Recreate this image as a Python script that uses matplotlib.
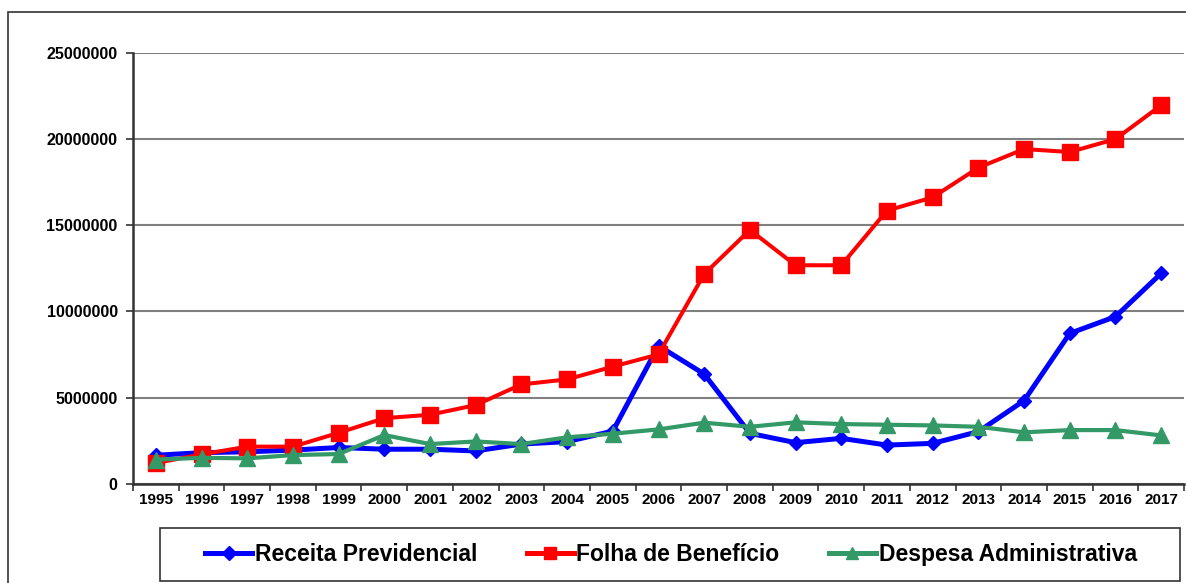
import matplotlib
matplotlib.use("Agg")
import matplotlib.pyplot as plt
from matplotlib.patches import Rectangle
from matplotlib.lines import Line2D

years = [str(y) for y in range(1995, 2018)]
receita = [1.65e6, 1.8e6, 1.85e6, 1.95e6, 2.1e6, 2.0e6, 2.0e6, 1.9e6, 2.3e6, 2.44e6,
           3.05e6, 8.0e6, 6.36e6, 2.92e6, 2.38e6, 2.63e6, 2.24e6, 2.34e6, 3.02e6,
           4.82e6, 8.72e6, 9.69e6, 12.2e6]
folha = [1.2e6, 1.7e6, 2.15e6, 2.15e6, 2.95e6, 3.8e6, 4.0e6, 4.56e6, 5.76e6, 6.05e6,
         6.79e6, 7.5e6, 12.16e6, 14.72e6, 12.67e6, 12.67e6, 15.84e6, 16.61e6, 18.33e6,
         19.41e6, 19.24e6, 19.99e6, 21.95e6]
despesa = [1.4e6, 1.5e6, 1.47e6, 1.66e6, 1.72e6, 2.82e6, 2.3e6, 2.45e6, 2.3e6, 2.69e6,
           2.9e6, 3.15e6, 3.54e6, 3.3e6, 3.56e6, 3.46e6, 3.42e6, 3.38e6, 3.3e6,
           2.98e6, 3.11e6, 3.11e6, 2.8e6]
series_names = ["Receita Previdencial", "Folha de Benefício", "Despesa Administrativa"]
y_ticks = [0, 5000000, 10000000, 15000000, 20000000, 25000000]

plt.rcParams['font.family'] = ['Liberation Sans', 'DejaVu Sans']

W, H = 1186, 583
fig = plt.figure(figsize=(W / 100, H / 100), dpi=100)
ax = fig.add_axes([133 / W, 1 - 483.7 / H, (1184 - 133) / W, (483.7 - 52.7) / H])

x = list(range(len(years)))
blue, red, green = '#0000FF', '#FF0000', '#339966'
ax.plot(x, receita, color=blue, lw=3.6, marker='D', ms=7.5, zorder=3, label=series_names[0])
ax.plot(x, folha, color=red, lw=2.9, marker='s', ms=12, zorder=4, label=series_names[1])
ax.plot(x, despesa, color=green, lw=3.0, marker='^', ms=12, zorder=5, label=series_names[2])

ax.set_xlim(-0.5, len(years) - 0.5)
ax.set_ylim(0, 25000000)
ax.set_yticks(y_ticks)
ax.set_yticklabels([str(v) for v in y_ticks], fontsize=11.5, fontweight='bold')
ax.yaxis.grid(True, color='#808080', lw=1.5)
ax.set_axisbelow(True)

ax.set_xticks([i - 0.5 for i in range(len(years) + 1)])
ax.set_xticklabels([''] * (len(years) + 1))
ax.set_xticks(x, minor=True)
ax.set_xticklabels(years, minor=True, fontsize=11, fontweight='bold')
ax.tick_params(axis='x', which='major', length=5, width=1.2, color='#333333', direction='out')
ax.tick_params(axis='x', which='minor', length=0, pad=7)
ax.tick_params(axis='y', length=5, width=1.2, color='#333333', pad=6)

for s in ['top', 'right']:
    ax.spines[s].set_visible(False)
for s in ['left', 'bottom']:
    ax.spines[s].set_color('#333333')
    ax.spines[s].set_linewidth(1.8)

# outer border
fig.patches.append(Rectangle((8 / W, -0.1), 1.2, 1 - 12 / H + 0.1, transform=fig.transFigure,
                             fill=False, edgecolor='#333333', lw=1.2, clip_on=False))
# legend box
fig.patches.append(Rectangle((160 / W, 1 - 581 / H), (1180 - 160) / W, (581 - 528) / H,
                             transform=fig.transFigure, fill=False, edgecolor='#333333', lw=1.2))

handles = [Line2D([], [], color=blue, lw=3.6, marker='D', ms=7),
           Line2D([], [], color=red, lw=3.6, marker='s', ms=9),
           Line2D([], [], color=green, lw=3.6, marker='^', ms=9)]
leg = fig.legend(handles, series_names, loc='center', bbox_to_anchor=(671 / W, 1 - 554.5 / H),
                 ncol=3, frameon=False, prop={'size': 16.5, 'weight': 'bold'},
                 handlelength=2.05, handletextpad=0.12, columnspacing=2.15)

fig.savefig('out.png', dpi=100)
